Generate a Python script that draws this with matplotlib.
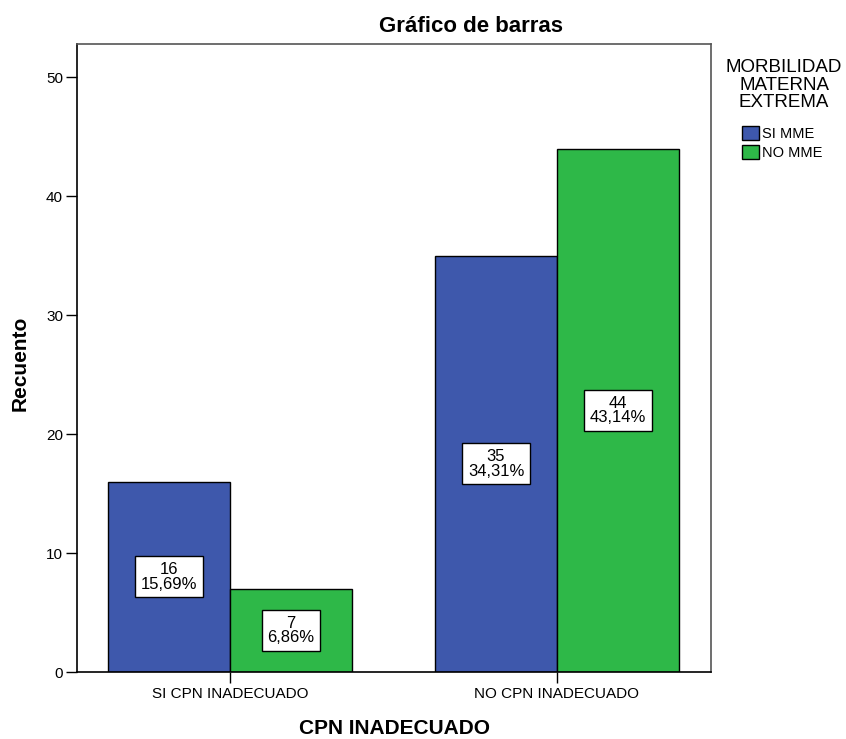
import matplotlib
matplotlib.use("Agg")
import matplotlib.pyplot as plt
import numpy as np
from matplotlib.patches import Patch

plt.rcParams['font.family'] = ['Liberation Sans', 'DejaVu Sans']

categories = ["SI CPN INADECUADO", "NO CPN INADECUADO"]
series_names = ["SI MME", "NO MME"]
si_mme = [16, 35]
no_mme = [7, 44]
si_pct = ["15,69%", "34,31%"]
no_pct = ["6,86%", "43,14%"]
colors = ["#3E58AC", "#2EB848"]
legend_title = "MORBILIDAD\nMATERNA\nEXTREMA"

fig = plt.figure(figsize=(8.46, 7.39), dpi=100)
ax = fig.add_axes([77/846, 1-672/739, (711-77)/846, (672-44)/739])

x = np.arange(len(categories))
w = 0.373
for vals, pcts, off, col in [(si_mme, si_pct, -w/2, colors[0]), (no_mme, no_pct, w/2, colors[1])]:
    ax.bar(x + off, vals, width=w, color=col, edgecolor="black", linewidth=1)
    for xi, v, p in zip(x + off, vals, pcts):
        ax.text(xi, v/2, f"{v}\n{p}", ha="center", va="center", fontsize=12,
                linespacing=0.95,
                bbox=dict(boxstyle="square,pad=0.35", facecolor="white", edgecolor="black", linewidth=1))

ax.set_xlim(-0.468, 1.471)
ax.set_ylim(0, 52.8)
ax.set_yticks([0, 10, 20, 30, 40, 50])
ax.set_xticks(x)
ax.set_xticklabels(categories, fontsize=11)
ax.tick_params(axis="y", labelsize=11, length=8, width=1, direction="out", pad=2)
ax.tick_params(axis="x", length=8, width=1, direction="out", pad=3)
for s in ["top", "right"]:
    ax.spines[s].set_color("#555555")
for s in ["left", "bottom"]:
    ax.spines[s].set_color("black")
for s in ax.spines.values():
    s.set_linewidth(1.2)

fig.text(20/846, 1-363/739, "Recuento", rotation=90, ha="center", va="center",
         fontsize=15, fontweight="bold")
fig.text(394/846, 1-729/739, "CPN INADECUADO", ha="center", va="center",
         fontsize=15, fontweight="bold")
fig.text(471/846, 1-26/739, "Gráfico de barras", ha="center", va="center",
         fontsize=16, fontweight="bold")

fig.text(784/846, 1-85/739, legend_title, ha="center", va="center",
         fontsize=13.5, linespacing=1.07, multialignment="center")

handles = [Patch(facecolor=c, edgecolor="black", label=n) for c, n in zip(colors, series_names)]
leg = fig.legend(handles=handles, loc="upper left", bbox_to_anchor=(739/846, 1-123/739),
                 frameon=False, fontsize=10.5,
                 handlelength=1.15, handleheight=1.15, handletextpad=0.25,
                 labelspacing=0.25, borderpad=0.2, borderaxespad=0)

fig.savefig("out.png", dpi=100)
